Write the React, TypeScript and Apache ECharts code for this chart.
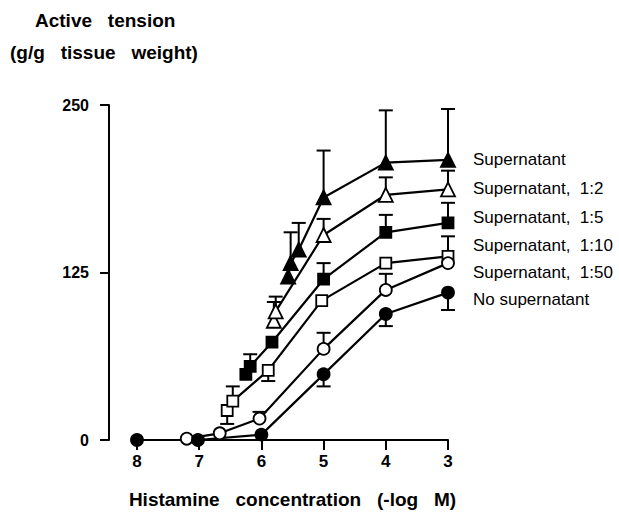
import React, { useEffect, useRef } from "react";
import * as echarts from "echarts";

// ---- Data (x = -log M, y = active tension g/g tissue weight) ----
const seriesNames = [
  "Supernatant",
  "Supernatant,  1:2",
  "Supernatant,  1:5",
  "Supernatant,  1:10",
  "Supernatant,  1:50",
  "No supernatant",
];

const supX = [5.57, 5.53, 5.4, 5.0, 4.0, 3.0];
const supY = [122, 132, 142, 181, 207, 209];
const supErr = [null, 155, 162, 216, 246, 247];

const s2X = [5.8, 5.77, 5.0, 4.0, 3.0];
const s2Y = [89, 96, 153, 183, 187];
const s2Err = [103, 107, 165, 196, 201];

const s5X = [6.25, 6.18, 5.83, 5.0, 4.0, 3.0];
const s5Y = [49, 55, 73, 120, 155, 162];
const s5Err = [null, 64, null, 132, 168, 177];

const s10X = [6.55, 6.46, 5.89, 5.03, 4.0, 3.0];
const s10Y = [22, 29, 52, 104, 132, 137];
const s10Err = [12, 40, 44, null, null, 152];

const s50X = [7.2, 6.67, 6.03, 5.0, 4.0, 3.0];
const s50Y = [1, 5, 16, 68, 112, 132];
const s50Err = [null, null, 21, 80, 124, null];

const noX = [8.0, 7.02, 6.0, 5.0, 4.0, 3.0];
const noY = [0, 0, 4, 49, 94, 110];
const noErr = [null, null, null, 40, 85, 97];

const xTicksMin = 3;
const xTicksMax = 8;
const yTicks = [0, 125, 250];

const titleLines = ["Active   tension", "(g/g   tissue   weight)"];
const xAxisTitle = "Histamine   concentration   (-log   M)";

const FONT = "'Liberation Sans', Arial, Helvetica, sans-serif";

type Style = { symbol: string; filled: boolean; size: number };
const styles: Style[] = [
  { symbol: "triangle", filled: true, size: 14 },
  { symbol: "triangle", filled: false, size: 14 },
  { symbol: "rect", filled: true, size: 11 },
  { symbol: "rect", filled: false, size: 11 },
  { symbol: "circle", filled: false, size: 12 },
  { symbol: "circle", filled: true, size: 12 },
];

const allX = [supX, s2X, s5X, s10X, s50X, noX];
const allY = [supY, s2Y, s5Y, s10Y, s50Y, noY];
const allErr = [supErr, s2Err, s5Err, s10Err, s50Err, noErr];

// label vertical positions (layout)
const labelY = [159, 188, 217, 245, 272, 299];

function buildOption() {
  const errData: number[][] = [];
  allX.forEach((xs, i) => {
    xs.forEach((x, j) => {
      const e = allErr[i][j];
      if (e !== null && e !== undefined) errData.push([x, allY[i][j], e as number]);
    });
  });

  const lineSeries = allX.map((xs, i) => ({
    type: "line",
    name: seriesNames[i],
    data: xs.map((x, j) => [x, allY[i][j]]),
    symbol: styles[i].symbol,
    symbolSize: styles[i].size,
    showAllSymbol: true,
    clip: false,
    z: 3,
    lineStyle: { color: "#000", width: 2.2 },
    itemStyle: {
      color: styles[i].filled ? "#000" : "#fff",
      borderColor: "#000",
      borderWidth: 1.8,
    },
  }));

  return {
    animation: false,
    backgroundColor: "#fff",
    textStyle: { fontFamily: FONT },
    grid: { left: 137, right: 171, top: 105, bottom: 73 },
    xAxis: {
      type: "value",
      inverse: true,
      min: xTicksMin,
      max: xTicksMax,
      interval: 1,
      name: xAxisTitle,
      nameLocation: "middle",
      nameGap: 50,
      nameTextStyle: { fontSize: 19, fontWeight: "bold", color: "#000", fontFamily: FONT },
      axisLine: { show: true, onZero: false, lineStyle: { color: "#000", width: 2 } },
      axisTick: { show: true, inside: false, length: 10, lineStyle: { color: "#000", width: 2 } },
      axisLabel: { color: "#000", fontSize: 17, fontWeight: "bold", margin: 13, fontFamily: FONT },
      splitLine: { show: false },
    },
    yAxis: {
      type: "value",
      min: yTicks[0],
      max: yTicks[yTicks.length - 1],
      interval: yTicks[1] - yTicks[0],
      offset: 28,
      axisLine: { show: true, lineStyle: { color: "#000", width: 2 } },
      axisTick: { show: true, inside: false, length: 9, lineStyle: { color: "#000", width: 2 } },
      axisLabel: { color: "#000", fontSize: 16, fontWeight: "bold", margin: 20, fontFamily: FONT },
      splitLine: { show: false },
    },
    graphic: [
      {
        type: "text",
        left: 35,
        top: 11,
        style: { text: titleLines[0], font: `bold 19px ${FONT}`, fill: "#000" },
      },
      {
        type: "text",
        left: 10,
        top: 43,
        style: { text: titleLines[1], font: `bold 19px ${FONT}`, fill: "#000" },
      },
      ...seriesNames.map((n, i) => ({
        type: "text",
        x: 473,
        y: labelY[i],
        style: {
          text: n,
          font: `17px ${FONT}`,
          fill: "#000",
          textVerticalAlign: "middle",
          verticalAlign: "middle",
        },
      })),
    ],
    series: [
      {
        type: "custom",
        z: 2,
        clip: false,
        data: errData,
        encode: { x: 0, y: 1 },
        renderItem: (params: any, api: any) => {
          const x = api.value(0);
          const y = api.value(1);
          const e = api.value(2);
          const p0 = api.coord([x, y]);
          const p1 = api.coord([x, e]);
          return {
            type: "group",
            children: [
              {
                type: "line",
                shape: { x1: p0[0], y1: p0[1], x2: p1[0], y2: p1[1] },
                style: { stroke: "#000", lineWidth: 2 },
              },
              {
                type: "line",
                shape: { x1: p1[0] - 7, y1: p1[1], x2: p1[0] + 7, y2: p1[1] },
                style: { stroke: "#000", lineWidth: 2 },
              },
            ],
          };
        },
      },
      ...lineSeries,
    ],
  };
}

export default function App() {
  const ref = useRef<HTMLDivElement>(null);
  useEffect(() => {
    if (!ref.current) return;
    const chart = echarts.init(ref.current, null, { renderer: "svg" });
    chart.setOption(buildOption() as any);
    return () => chart.dispose();
  }, []);
  return (
    <div
      ref={ref}
      style={{ position: "fixed", left: 0, top: 0, width: 619, height: 514, background: "#fff" }}
    />
  );
}
